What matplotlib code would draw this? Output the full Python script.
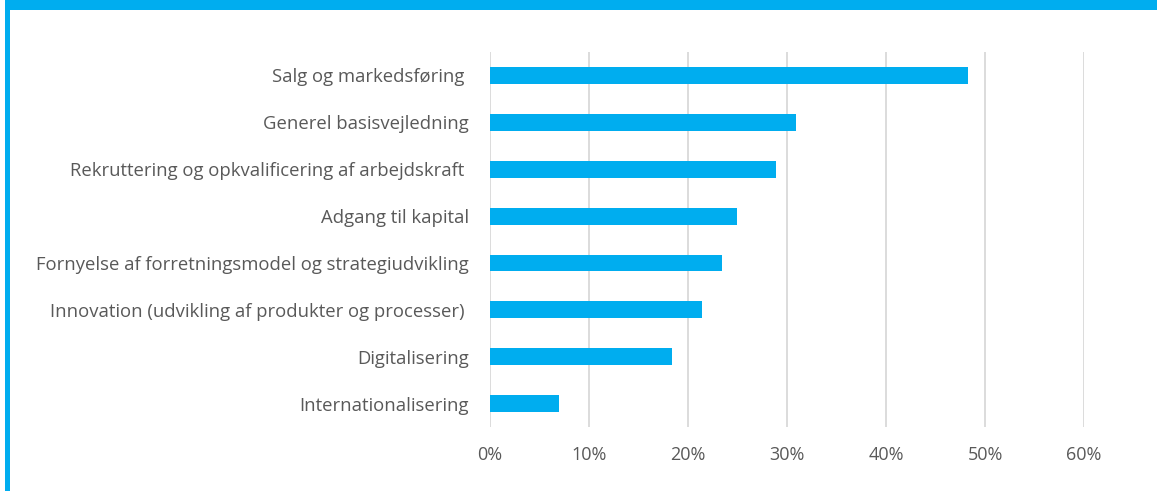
import matplotlib
matplotlib.use("Agg")
import matplotlib.pyplot as plt
from matplotlib.patches import Rectangle
from matplotlib.ticker import FuncFormatter, MultipleLocator

categories = [
    "Salg og markedsføring ",
    "Generel basisvejledning",
    "Rekruttering og opkvalificering af arbejdskraft ",
    "Adgang til kapital",
    "Fornyelse af forretningsmodel og strategiudvikling",
    "Innovation (udvikling af produkter og processer) ",
    "Digitalisering",
    "Internationalisering",
]
shares = [0.483, 0.309, 0.289, 0.249, 0.234, 0.214, 0.184, 0.070]

BLUE = "#00ADEF"
GRID = "#D9D9D9"
TEXT = "#595959"

plt.rcParams["font.family"] = ["Open Sans", "DejaVu Sans"]

W, H = 1159, 491
fig = plt.figure(figsize=(W / 100, H / 100), dpi=100)

# frame accents: top band and left edge
fig.patches.append(Rectangle((5 / W, 1 - 10 / H), 1152 / W, 10 / H,
                             transform=fig.transFigure, color=BLUE, lw=0, zorder=0))
fig.patches.append(Rectangle((5 / W, 0), 5 / W, 1, transform=fig.transFigure,
                             color=BLUE, lw=0, zorder=0))

left, right = 490 / W, 1084 / W
top, bottom = 1 - 52 / H, 1 - 427 / H
ax = fig.add_axes([left, bottom, right - left, top - bottom])

y = list(range(len(categories)))
ax.barh(y, shares, height=0.36, color=BLUE, zorder=3)
ax.set_ylim(len(categories) - 0.5, -0.5)
ax.set_xlim(0, 0.6)
ax.set_yticks(y)
ax.set_yticklabels(categories, fontsize=13.3, color=TEXT)
ax.xaxis.set_major_locator(MultipleLocator(0.1))
ax.xaxis.set_major_formatter(FuncFormatter(lambda v, _: f"{v * 100:.0f}%"))
ax.tick_params(axis="x", labelsize=13, labelcolor=TEXT, length=0, pad=13.5)
ax.tick_params(axis="y", length=0, pad=15)
ax.grid(axis="x", color=GRID, lw=1.3, zorder=0)
for s in ax.spines.values():
    s.set_visible(False)

fig.savefig("out.png", dpi=100)
